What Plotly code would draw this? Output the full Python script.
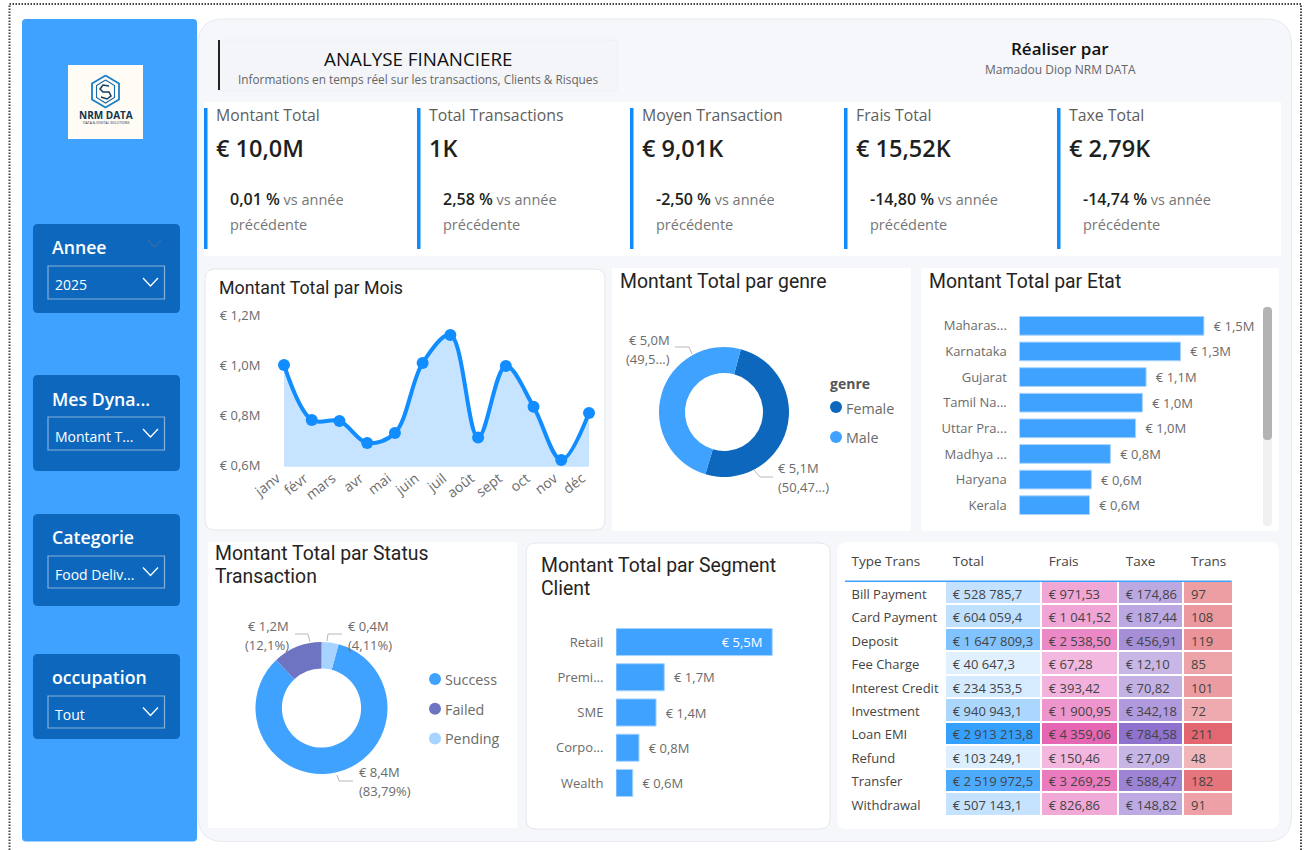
import plotly.graph_objects as go

W = 1304
H = 850

# data
months = ["janv", "févr", "mars", "avr", "mai", "juin", "juil", "août", "sept", "oct", "nov", "déc"]
month_totals = [1.0, 0.78, 0.776, 0.688, 0.728, 1.008, 1.12, 0.71, 0.996, 0.833, 0.62, 0.808]
month_ticks = [0.6, 0.8, 1.0, 1.2]
month_tick_labels = ["€ 0,6M", "€ 0,8M", "€ 1,0M", "€ 1,2M"]

genders = ["Female", "Male"]
gender_shares = [50.47, 49.53]

states = ["Maharas...", "Karnataka", "Gujarat", "Tamil Na...", "Uttar Pra...", "Madhya ...", "Haryana", "Kerala"]
state_totals = [1.50, 1.31, 1.03, 1.0, 0.945, 0.74, 0.585, 0.57]
state_labels = ["€ 1,5M", "€ 1,3M", "€ 1,1M", "€ 1,0M", "€ 1,0M", "€ 0,8M", "€ 0,6M", "€ 0,6M"]

statuses = ["Success", "Failed", "Pending"]
status_shares = [83.79, 12.1, 4.11]

segments = ["Retail", "Premi...", "SME", "Corpo...", "Wealth"]
segment_totals = [5.5, 1.7, 1.41, 0.81, 0.59]
segment_labels = ["€ 5,5M", "€ 1,7M", "€ 1,4M", "€ 0,8M", "€ 0,6M"]

trans_types = ["Bill Payment", "Card Payment", "Deposit", "Fee Charge", "Interest Credit",
               "Investment", "Loan EMI", "Refund", "Transfer", "Withdrawal"]
trans_total = [528785.7, 604059.4, 1647809.3, 40647.3, 234353.5, 940943.1, 2913213.8, 103249.1, 2519972.5, 507143.1]
trans_frais = [971.53, 1041.52, 2538.50, 67.28, 393.42, 1900.95, 4359.06, 150.46, 3269.25, 826.86]
trans_taxe = [174.86, 187.44, 456.91, 12.10, 70.82, 342.18, 784.58, 27.09, 588.47, 148.82]
trans_count = [97, 108, 119, 85, 101, 72, 211, 48, 182, 91]
table_headers = ["Type Trans", "Total", "Frais", "Taxe", "Trans"]

kpi_titles = ["Montant Total", "Total Transactions", "Moyen Transaction", "Frais Total", "Taxe Total"]
kpi_values = ["€ 10,0M", "1K", "€ 9,01K", "€ 15,52K", "€ 2,79K"]
kpi_deltas = ["0,01 %", "2,58 %", "-2,50 %", "-14,80 %", "-14,74 %"]

slicer_titles = ["Annee", "Mes Dyna...", "Categorie", "occupation"]
slicer_values = ["2025", "Montant T...", "Food Deliv...", "Tout"]

BLUE = "#40A2FF"
DARK_BLUE = "#0D68BD"
LINE_BLUE = "#118DFF"
GREY = "#6B6B6B"
INK = "#252423"
BODY_FONT = "Open Sans"
TITLE_FONT = "Roboto"
# outside bar labels sit further from the bar than plotly puts them
GAP = "\u00a0\u00a0"

shapes = []
annotations = []


def fx(px):
    return px / W


def fy(py):
    return 1 - py / H


def add_text(x, y, text, size=13, color=GREY, font=BODY_FONT, anchor="left", weight=None):
    annotations.append(dict(
        x=fx(x), y=fy(y), xref="paper", yref="paper", text=text, showarrow=False,
        xanchor=anchor, yanchor="middle", borderpad=0,
        font=dict(size=size, color=color, family=font, weight=weight),
    ))


def add_rect(x0, y0, x1, y1, fill, radius=0, line=None, line_width=1):
    # corners as quadratic curves, paper coordinates so pixels stay pixels
    r = radius
    path = (
        f"M {fx(x0 + r)} {fy(y0)} L {fx(x1 - r)} {fy(y0)} Q {fx(x1)} {fy(y0)} {fx(x1)} {fy(y0 + r)} "
        f"L {fx(x1)} {fy(y1 - r)} Q {fx(x1)} {fy(y1)} {fx(x1 - r)} {fy(y1)} "
        f"L {fx(x0 + r)} {fy(y1)} Q {fx(x0)} {fy(y1)} {fx(x0)} {fy(y1 - r)} "
        f"L {fx(x0)} {fy(y0 + r)} Q {fx(x0)} {fy(y0)} {fx(x0 + r)} {fy(y0)} Z"
    )
    shapes.append(dict(
        type="path", path=path, xref="paper", yref="paper", fillcolor=fill, layer="below",
        line=dict(color=line or fill, width=line_width if line else 0),
    ))


def add_polyline(points, color, width=1.0, dash=None):
    path = "M " + " L ".join(f"{fx(x)} {fy(y)}" for x, y in points)
    shapes.append(dict(type="path", path=path, xref="paper", yref="paper", layer="above",
                       line=dict(color=color, width=width, dash=dash)))


def add_dot(x, y, r, color):
    shapes.append(dict(type="circle", xref="paper", yref="paper", x0=fx(x - r), x1=fx(x + r),
                       y0=fy(y + r), y1=fy(y - r), fillcolor=color, line=dict(width=0), layer="above"))


def lerp_color(low, high, value, vmin, vmax):
    t = (value - vmin) / (vmax - vmin)
    rgb = [round(a + (b - a) * t) for a, b in zip(low, high)]
    return f"rgb({rgb[0]},{rgb[1]},{rgb[2]})"


def scale_colors(values, low, high):
    return [lerp_color(low, high, v, min(values), max(values)) for v in values]


def euro(value, decimals):
    # no-break spaces, the table would wrap on plain ones
    s = f"{value:,.{decimals}f}".replace(",", "\u00a0").replace(".", ",")
    return "€\u00a0" + s


# page frame and panels
add_polyline([(9.5, 850), (9.5, 4), (1301, 4), (1301, 850)], "#444444", 2, dash="1.5px,1.5px")
add_rect(198, 19, 1291.5, 841.5, "#F5F7FB", radius=26, line="#E6E9EE", line_width=1)
add_rect(22, 19, 197, 841.5, BLUE, radius=4)

# logo
add_rect(68, 65, 143, 139, "#FFFBF5")
hex_outer = [(105.5, 75.5), (119, 83.5), (119, 99.5), (105.5, 107.5), (92, 99.5), (92, 83.5), (105.5, 75.5)]
hex_inner = [(105.5, 80), (114.5, 85.5), (114.5, 97.5), (105.5, 103), (96.5, 97.5), (96.5, 85.5), (105.5, 80)]
add_polyline(hex_outer, "#1B7FC4", 1.8)
add_polyline(hex_inner, "#1A6AA8", 1.1)
add_polyline([(109, 86), (103, 85), (100, 89), (103, 92), (109, 92), (111, 96), (107, 99), (101, 97)], "#123F66", 1.5)
add_text(105.5, 115, "NRM DATA", size=10, color="#12354F", anchor="center", weight=700)
add_text(105.5, 122, "DATA &amp; DIGITAL SOLUTIONS", size=3.5, color="#12354F", anchor="center")

# slicers
slicer_boxes = [(224, 313, 266, 299), (375, 471, 417, 450), (514, 606, 556, 588), (654, 739, 696, 728)]
slicer_title_y = [247, 399, 536.5, 676.5]
for i, (top, bottom, in_top, in_bottom) in enumerate(slicer_boxes):
    add_rect(33, top, 180, bottom, DARK_BLUE, radius=5)
    add_rect(48, in_top, 164.5, in_bottom, DARK_BLUE, line="#86AFDC", line_width=1.2)
    add_text(50.5, slicer_title_y[i], slicer_titles[i], size=17.7, color="white", anchor="left", weight=600)
    add_text(53.5, (in_top + in_bottom) / 2 + 2.5, slicer_values[i], size=14, color="white")
    mid = (in_top + in_bottom) / 2 - 0.5
    add_polyline([(143, mid - 4), (150.5, mid + 4), (158, mid - 4)], "white", 1.3)
add_polyline([(148, 240), (154.5, 247), (161, 240)], "#3D6FA8", 1.1)

# header
add_rect(218, 40, 617, 91, "#F3F5F9", radius=3, line="#EEF0F4")
add_rect(218, 40, 220, 90, "#252423")
add_text(418, 59, "ANALYSE FINANCIERE", size=18.8, color="#111111", anchor="center", weight=500)
add_text(418, 79, "Informations en temps réel sur les transactions, Clients &amp; Risques", size=11.8, color="#666666", anchor="center")
add_text(1060, 49, "Réaliser par", size=17, color="#111111", anchor="center", weight=600)
add_text(1060, 69.5, "Mamadou Diop NRM DATA", size=12, color="#666666", anchor="center")

# kpi strip
add_rect(204, 102, 1281, 256, "white")
kpi_x = [204, 417, 630, 844, 1057]
for i, x in enumerate(kpi_x):
    add_rect(x, 108, x + 3.5, 249, "#0F8BFF")
    add_text(x + 10.5, 115.5, kpi_titles[i], size=15.8, color="#605E5C")
    add_text(x + 10.5, 148, kpi_values[i], size=23.5, color="#201F1E", weight=600)
    add_text(x + 24.5, 198.5,
             f"<span style='color:#201F1E;font-weight:600;font-size:16px'>{kpi_deltas[i]}</span> vs année",
             size=14.5, color="#777777")
    add_text(x + 24.5, 224, "précédente", size=14.5, color="#777777")

# cards
add_rect(205, 269, 605, 530, "white", radius=10, line="#E4E6EA")
add_rect(612, 268, 911, 531, "white")
add_rect(921, 268, 1279, 531, "white", radius=4)
add_rect(208, 542, 517, 828, "white")
add_rect(526, 543, 830, 829, "white", radius=10, line="#E4E6EA")
add_rect(837, 542, 1279, 829, "white", radius=10)

add_text(217.5, 287, "Montant Total par Mois", size=17.8, color=INK, font=TITLE_FONT)
add_text(618.5, 281, "Montant Total par genre", size=19.4, color=INK, font=TITLE_FONT)
add_text(927.5, 281, "Montant Total par Etat", size=19.4, color=INK, font=TITLE_FONT)
add_text(213.5, 553, "Montant Total par Status", size=19.4, color=INK, font=TITLE_FONT)
add_text(213.5, 576, "Transaction", size=19.4, color=INK, font=TITLE_FONT)
add_text(539.5, 565, "Montant Total par Segment", size=19.4, color=INK, font=TITLE_FONT)
add_text(539.5, 588, "Client", size=19.4, color=INK, font=TITLE_FONT)

# genre donut labels and legend
add_text(671, 340, "€ 5,0M", anchor="right")
add_text(671, 359, "(49,5...)", anchor="right")
add_text(777, 468, "€ 5,1M")
add_text(777, 487, "(50,47...)")
add_polyline([(675, 347), (689, 347), (692, 354)], "#B8B8B8")
add_polyline([(754, 470), (760, 477), (773, 477)], "#B8B8B8")
add_text(829, 383, "genre", size=14, color="#555555", weight=700)
add_dot(836, 407, 6, DARK_BLUE)
add_text(844.5, 408.5, "Female", size=14.3)
add_dot(836, 437, 6, BLUE)
add_text(844.5, 437.5, "Male", size=14.3)

# status donut labels and legend
add_text(290, 626, "€ 1,2M", anchor="right")
add_text(290, 645, "(12,1%)", anchor="right")
add_text(347, 626, "€ 0,4M")
add_text(347, 645, "(4,11%)")
add_text(358, 772, "€ 8,4M")
add_text(358, 791, "(83,79%)")
add_polyline([(295, 634), (308, 634), (310, 642)], "#B8B8B8")
add_polyline([(342, 634), (328, 634), (327, 641)], "#B8B8B8")
add_polyline([(337, 775), (339, 781), (353, 781)], "#B8B8B8")
status_colors = [BLUE, "#6E74C2", "#A6D3FF"]
for i, name in enumerate(statuses):
    add_dot(435, 679 + 29.7 * i, 6, status_colors[i])
    add_text(443.5, 679.5 + 29.7 * i, name, size=14.3)

# scrollbar of the state bars
add_rect(1263, 307, 1272, 526, "#F1F1F1", radius=4)
add_rect(1263, 307, 1272, 440, "#B3B3B3", radius=4)

# blue rule under the table header
add_polyline([(845, 581.3), (1231.7, 581.3)], "#40A2FF", 1.5)

fig = go.Figure()

# month area, clipped at the axis, then line and markers on top
fig.add_trace(go.Scatter(
    x=months, y=month_totals, mode="lines", fill="tozeroy", fillcolor="#C6E3FF",
    line=dict(width=0, shape="spline", smoothing=1), hoverinfo="skip", showlegend=False,
    xaxis="x", yaxis="y",
))
fig.add_trace(go.Scatter(
    x=months, y=month_totals, mode="lines+markers", cliponaxis=False, showlegend=False,
    line=dict(color=LINE_BLUE, width=4, shape="spline", smoothing=1),
    marker=dict(color=LINE_BLUE, size=12), xaxis="x", yaxis="y",
))

fig.add_trace(go.Pie(
    labels=genders, values=gender_shares, hole=0.6, sort=False, direction="clockwise", rotation=15,
    marker=dict(colors=[DARK_BLUE, BLUE]), textinfo="none", showlegend=False,
    domain=dict(x=[fx(724 - 65), fx(724 + 65)], y=[fy(412 + 65), fy(412 - 65)]),
))
fig.add_trace(go.Pie(
    labels=statuses, values=status_shares, hole=0.6, sort=False, direction="clockwise", rotation=15,
    marker=dict(colors=status_colors), textinfo="none", showlegend=False,
    domain=dict(x=[fx(321.5 - 66), fx(321.5 + 66)], y=[fy(708 + 66), fy(708 - 66)]),
))

fig.add_trace(go.Bar(
    x=state_totals, y=states, orientation="h", marker=dict(color=BLUE, line=dict(color="#A9D4FF", width=1)),
    text=[GAP + s for s in state_labels], textposition="outside", cliponaxis=False, showlegend=False,
    textfont=dict(size=13, color=GREY, family=BODY_FONT), xaxis="x2", yaxis="y2", width=0.73,
))
fig.add_trace(go.Bar(
    x=segment_totals, y=segments, orientation="h", marker=dict(color=BLUE, line=dict(color="#A9D4FF", width=1)),
    text=[segment_labels[0] + GAP] + [GAP + s for s in segment_labels[1:]],
    textposition=["inside", "outside", "outside", "outside", "outside"],
    insidetextanchor="end", cliponaxis=False, showlegend=False, constraintext="none",
    textfont=dict(size=13, color=["white", GREY, GREY, GREY, GREY], family=BODY_FONT),
    xaxis="x3", yaxis="y3", width=0.77,
))

white_col = ["white"] * len(trans_types)
fig.add_trace(go.Table(
    domain=dict(x=[fx(843.5), fx(1232.5)], y=[fy(816), fy(548)]),
    columnwidth=[101.2, 96, 77, 65.3, 49.5],
    header=dict(
        values=table_headers, height=33, align="left", fill=dict(color="white"),
        line=dict(color="white", width=0), font=dict(size=13.5, color="#444444", family=BODY_FONT),
    ),
    cells=dict(
        values=[
            [t.replace(" ", "\u00a0") for t in trans_types],
            [euro(v, 1) for v in trans_total],
            [euro(v, 2) for v in trans_frais],
            [euro(v, 2) for v in trans_taxe],
            trans_count,
        ],
        height=23.45, align="left", line=dict(color="white", width=2),
        font=dict(size=13, color="#444444", family=BODY_FONT),
        fill=dict(color=[
            white_col,
            scale_colors(trans_total, (225, 240, 255), (53, 160, 254)),
            scale_colors(trans_frais, (243, 184, 224), (229, 102, 178)),
            scale_colors(trans_taxe, (200, 182, 230), (143, 114, 206)),
            scale_colors(trans_count, (240, 182, 185), (227, 103, 112)),
        ]),
    ),
))

tick_font = dict(size=13, color=GREY, family=BODY_FONT)
fig.update_layout(
    width=W, height=H, margin=dict(l=0, r=0, t=0, b=0, autoexpand=False), autosize=False,
    paper_bgcolor="white", plot_bgcolor="rgba(0,0,0,0)", showlegend=False,
    font=dict(family=BODY_FONT), shapes=shapes, annotations=annotations,
    xaxis=dict(domain=[fx(284), fx(589)], range=[0, 11], type="category", categoryorder="array", categoryarray=months,
               tickangle=-38, showgrid=False, zeroline=False, showline=False, ticks="",
               tickfont=dict(size=14, color=GREY, family=BODY_FONT), ticklabelshift=-7, anchor="y"),
    yaxis=dict(domain=[fy(466.7), fy(315)], range=[0.593, 1.2], tickvals=month_ticks, ticktext=month_tick_labels,
               showgrid=False, zeroline=False, showline=False, tickfont=tick_font, anchor="x",
               ticks="outside", ticklen=20, tickcolor="rgba(0,0,0,0)"),
    xaxis2=dict(domain=[fx(1019.4), fx(1265.4)], range=[0, 2], visible=False, anchor="y2"),
    yaxis2=dict(domain=[fy(518), fy(313)], autorange="reversed", showgrid=False, zeroline=False, showline=False,
                tickfont=tick_font, anchor="x2", ticks="outside", ticklen=9, tickcolor="rgba(0,0,0,0)"),
    xaxis3=dict(domain=[fx(616), fx(816)], range=[0, 7.04], visible=False, anchor="y3"),
    yaxis3=dict(domain=[fy(800.6), fy(624.4)], autorange="reversed", showgrid=False, zeroline=False, showline=False,
                tickfont=tick_font, anchor="x3", ticks="outside", ticklen=9, tickcolor="rgba(0,0,0,0)"),
)

fig.write_html("out.html", config={"displayModeBar": False},
               post_script="document.body.style.margin='0';document.body.style.overflow='hidden';")
